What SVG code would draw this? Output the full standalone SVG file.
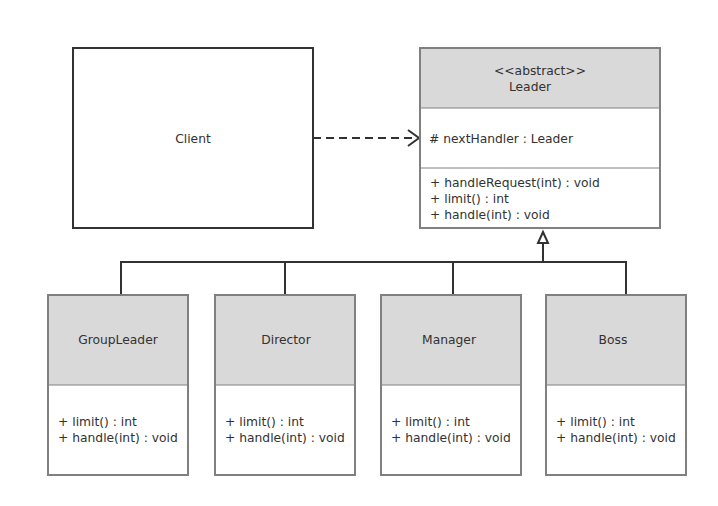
<svg xmlns="http://www.w3.org/2000/svg" width="718" height="506" viewBox="0 0 718 506">
<defs>
<style>
text{font-family:"DejaVu Sans","Noto Sans","Liberation Sans",sans-serif;font-size:12.3px;fill:#323232}
.c{text-anchor:middle}
.hdr{fill:#d9d9d9;stroke:none}
.box{fill:none;stroke:#808080;stroke-width:2}
.sep{stroke:#808080;stroke-width:1}
.body{fill:#ffffff}
.ln{fill:none;stroke:#323232;stroke-width:2}
</style>
</defs>
<rect width="718" height="506" fill="#ffffff"/>
<g id="connectors">
<line class="ln" x1="313" y1="138" x2="416" y2="138" stroke-dasharray="8,5"/>
<path class="ln" d="M408,130 L419,138 L408,146"/>
<path class="ln" d="M543,262 L543,243"/>
<path d="M543,232 L548,243 L538,243 Z" fill="#ffffff" stroke="#323232" stroke-width="2" stroke-linejoin="miter"/>
<path class="ln" d="M121,295 L121,262 L626,262 L626,295"/>
<line class="ln" x1="285" y1="262" x2="285" y2="295"/>
<line class="ln" x1="453" y1="262" x2="453" y2="295"/>
</g>
<g id="client">
<rect x="73" y="48" width="240" height="180" fill="#ffffff" stroke="#323232" stroke-width="2"/>
<text class="c" x="193" y="143">Client</text>
</g>
<g id="leader">
<rect class="body" x="420" y="48" width="240" height="180"/>
<rect class="hdr" x="420" y="48" width="240" height="60"/>
<line class="sep" x1="420" y1="108" x2="660" y2="108"/>
<line class="sep" x1="420" y1="168" x2="660" y2="168"/>
<rect class="box" x="420" y="48" width="240" height="180"/>
<text class="c" x="540" y="75">&lt;&lt;abstract&gt;&gt;</text>
<text class="c" x="530" y="91">Leader</text>
<text x="429" y="143"># nextHandler : Leader</text>
<text x="430" y="187">+ handleRequest(int) : void</text>
<text x="430" y="203">+ limit() : int</text>
<text x="430" y="219">+ handle(int) : void</text>
</g>
<g id="groupleader">
<rect class="body" x="48" y="295" width="140" height="180"/>
<rect class="hdr" x="48" y="295" width="140" height="90"/>
<line class="sep" x1="48" y1="385" x2="188" y2="385"/>
<rect class="box" x="48" y="295" width="140" height="180"/>
<text class="c" x="118" y="344">GroupLeader</text>
<text x="58" y="426">+ limit() : int</text>
<text x="58" y="442">+ handle(int) : void</text>
</g>
<g id="director">
<rect class="body" x="215" y="295" width="140" height="180"/>
<rect class="hdr" x="215" y="295" width="140" height="90"/>
<line class="sep" x1="215" y1="385" x2="355" y2="385"/>
<rect class="box" x="215" y="295" width="140" height="180"/>
<text class="c" x="286" y="344">Director</text>
<text x="225" y="426">+ limit() : int</text>
<text x="225" y="442">+ handle(int) : void</text>
</g>
<g id="manager">
<rect class="body" x="381" y="295" width="140" height="180"/>
<rect class="hdr" x="381" y="295" width="140" height="90"/>
<line class="sep" x1="381" y1="385" x2="521" y2="385"/>
<rect class="box" x="381" y="295" width="140" height="180"/>
<text class="c" x="449" y="344">Manager</text>
<text x="391" y="426">+ limit() : int</text>
<text x="391" y="442">+ handle(int) : void</text>
</g>
<g id="boss">
<rect class="body" x="546" y="295" width="140" height="180"/>
<rect class="hdr" x="546" y="295" width="140" height="90"/>
<line class="sep" x1="546" y1="385" x2="686" y2="385"/>
<rect class="box" x="546" y="295" width="140" height="180"/>
<text class="c" x="613" y="344">Boss</text>
<text x="556" y="426">+ limit() : int</text>
<text x="556" y="442">+ handle(int) : void</text>
</g>
</svg>
